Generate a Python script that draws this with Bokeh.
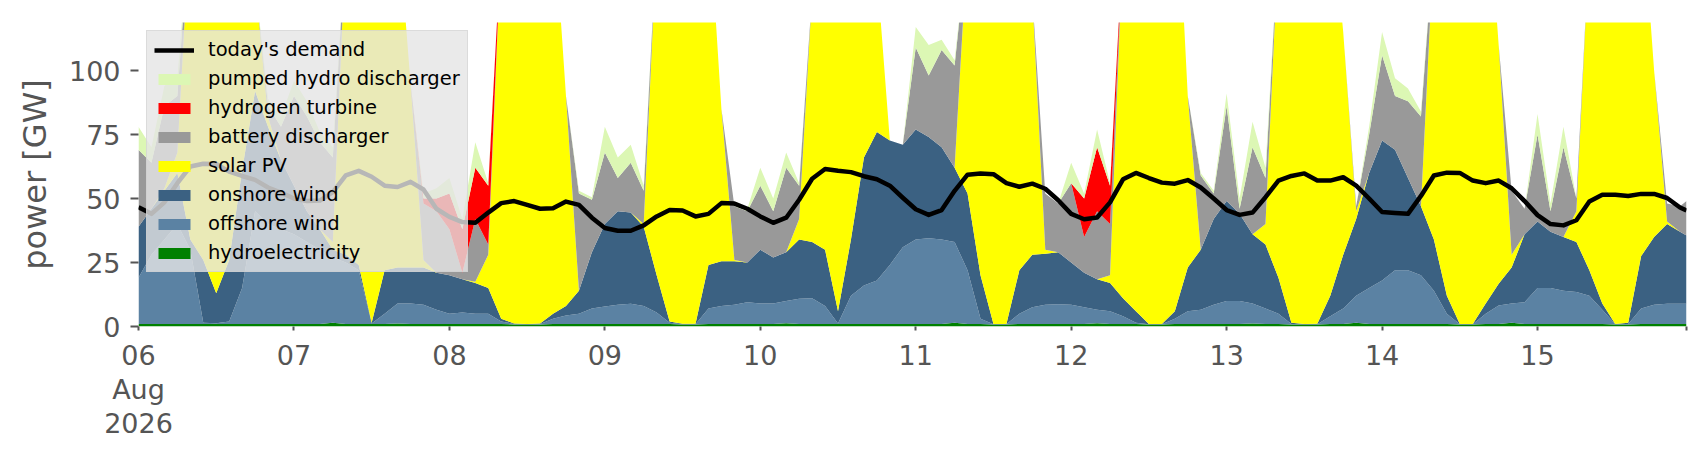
import pandas as pd
from bokeh.plotting import figure
from bokeh.models import ColumnDataSource, Range1d, FixedTicker, Legend, LegendItem
from bokeh.embed import file_html
from bokeh.resources import INLINE

# 2-hourly readings from 06 Aug 2026 00:00, plus the last hour (15 Aug 23:00)
times = pd.date_range("2026-08-06 00:00", periods=120, freq="2h").append(
    pd.DatetimeIndex([pd.Timestamp("2026-08-15 23:00")]))

hydroelectricity = [
    1.0, 1.0, 1.0, 1.0, 1.0, 1.0, 1.0, 1.0, 1.0, 1.0,
    1.0, 1.0, 1.0, 1.0, 1.0, 1.5, 1.0, 1.0, 1.0, 1.0,
    1.2, 1.0, 1.0, 1.0, 1.0, 1.0, 1.0, 1.0, 1.0, 0.8,
    0.8, 0.8, 1.0, 1.0, 1.0, 1.0, 1.0, 1.0, 1.0, 1.0,
    1.0, 1.0, 0.8, 0.8, 1.0, 1.0, 1.0, 1.0, 1.0, 1.0,
    1.3, 1.0, 1.0, 1.0, 1.0, 1.0, 1.0, 1.0, 1.0, 1.0,
    1.0, 1.0, 1.0, 1.5, 1.0, 1.0, 0.8, 0.8, 1.0, 1.0,
    1.0, 1.0, 1.0, 1.0, 1.3, 1.0, 1.0, 1.0, 0.8, 0.8,
    1.0, 1.0, 1.0, 1.0, 1.0, 1.0, 1.2, 1.0, 1.0, 0.8,
    0.8, 0.8, 1.0, 1.0, 1.5, 1.0, 1.0, 1.0, 1.0, 1.0,
    1.0, 1.0, 0.8, 0.8, 1.0, 1.0, 1.5, 1.0, 1.0, 1.0,
    1.0, 1.0, 1.0, 1.0, 0.8, 0.8, 1.0, 1.0, 1.0, 1.0,
    1.0]

offshore_wind = [
    18, 27, 33, 39, 29, 0.5, 0.3, 1, 14, 44,
    39, 37, 35, 32, 29, 25.5, 24, 21, 0.2, 4,
    7.8, 8, 7.5, 5.5, 4, 4.5, 4, 4, 1, 0.2,
    0.1, 0.2, 2, 3.3, 4, 6, 6.8, 7.5, 7.9, 7,
    4.5, 0.5, 0.1, 0.1, 6, 7, 7.5, 8.5, 8, 8,
    8.7, 9.8, 10, 7, 0.2, 11, 15, 17, 23, 30,
    33, 33.5, 33, 31.5, 21, 2, 0.1, 0.1, 4, 6.5,
    7.5, 7.7, 7.5, 6.5, 5.2, 5, 3, 0.5, 0.1, 0.1,
    2, 5, 5.5, 7.5, 9, 9, 7.8, 6, 4, 0.2,
    0.1, 0.1, 3, 6, 10.5, 14, 17, 21, 21, 19,
    13, 4, 0.1, 0.1, 4, 7.2, 7.5, 8.5, 14, 14,
    13, 12.5, 11, 5.5, 0.1, 0.2, 6, 7.5, 7.9, 7.9,
    7.9]

onshore_wind = [
    20, 18, 19, 20, 4, 24.5, 11.7, 24, 46, 47,
    38, 27, 19, 12, 8, 3, 3, 2, 0.3, 17,
    14, 14, 14.5, 14.5, 15, 13, 12, 10, 1, 0.2,
    0.1, 0.2, 2, 3.7, 9, 22, 32.2, 36.5, 35.6, 31,
    14.5, 0.5, 0.2, 0.2, 17, 17.5, 17, 15.5, 21, 18,
    19, 23.2, 22, 22, 4.8, 22, 50, 58, 48.7, 40,
    43, 39.5, 36, 29, 30, 17, 0.1, 0.1, 17, 20.5,
    19.9, 20.3, 16.5, 13.5, 12, 11, 7, 4.5, 0.1, 0.1,
    3, 17, 23.5, 33.5, 39, 34, 27, 25, 14, 0.5,
    0.1, 0.2, 8, 21, 30, 45, 54.7, 47, 36, 27,
    20, 7, 0.1, 0.1, 4, 8.5, 14, 26.5, 26, 22,
    21, 19.5, 10, 2.5, 0.1, 0.5, 20.5, 26.5, 31.1, 28.1,
    26.6]

solar_pv = [
    0, 0, 1, 8, 126, 164, 187, 164, 114, 43,
    4, 0, 0, 0, 0, 3, 122, 166, 198.5, 168,
    137, 72, 3, 0, 0, 0, 0.5, 13, 147, 188.8,
    199, 188.8, 160, 82, 0, 0, 0, 0, 0, 1,
    130, 188, 199, 194, 141, 59.5, 0.5, 0, 0, 0,
    0, 8, 97, 160, 194, 161, 114, 63, 0, 0,
    0, 0, 0, 0, 98, 170, 199, 194, 148, 101,
    1.6, 0, 0, 0, 0, 3, 139, 184, 199, 194,
    184, 67, 0, 0, 0, 0, 0, 8, 131, 188.5,
    199, 194, 158, 87, 3, 0, 0, 0, 0, 0,
    116, 173, 199, 194, 171, 93.3, 5, 0, 0, 0,
    0, 12, 128, 181, 199, 193.5, 142.5, 65, 1, 0,
    0]

battery_discharger = [
    30, 18, 32, 22, 0, 0, 0, 0, 0, 0,
    4, 13, 35, 37, 34, 33, 0, 0, 0, 0,
    0, 0, 22, 24, 18, 2.5, 24.5, 4, 0, 0,
    0, 0, 0, 0, 38, 20.5, 28, 13, 19.5, 13,
    0, 0, 0, 0, 0, 0, 21, 20, 25, 18,
    33, 13, 0, 0, 0, 0, 0, 0, 0, 0,
    32, 24, 38, 40, 0, 0, 0, 0, 0, 0,
    22, 19, 31, 14, 26.5, 20, 0, 0, 0, 0,
    0, 0, 29, 10, 37, 2, 34, 18, 0, 0,
    0, 0, 0, 0, 2, 15, 33.3, 21, 30, 35,
    0, 0, 0, 0, 0, 0, 25, 10, 34, 8,
    35, 5, 0, 0, 0, 0, 0, 0, 7, 10,
    13.5]

hydrogen_turbine = [
    0, 0, 0, 0, 0, 0, 0, 0, 0, 0,
    0, 0, 0, 0, 0, 0, 0, 0, 0, 0,
    0, 0, 2, 5, 14, 17, 20, 23, 0, 0,
    0, 0, 0, 0, 0, 0, 0, 0, 0, 0,
    0, 0, 0, 0, 0, 0, 0, 0, 0, 0,
    0, 0, 0, 0, 0, 0, 0, 0, 0, 0,
    0, 0, 0, 0, 0, 0, 0, 0, 0, 0,
    0, 0, 0, 15, 25, 15, 0, 0, 0, 0,
    0, 0, 0, 0, 0, 0, 0, 0, 0, 0,
    0, 0, 0, 0, 0, 0, 0, 0, 0, 0,
    0, 0, 0, 0, 0, 0, 0, 0, 0, 0,
    0, 0, 0, 0, 0, 0, 0, 0, 0, 0,
    0]

pumped_hydro_discharger = [
    9, 6, 8, 7, 0, 0, 0, 0, 0, 0,
    3, 4, 6, 6, 4, 4, 0, 0, 0, 0,
    0, 0, 2, 4, 6, 4, 10, 1, 0, 0,
    0, 0, 0, 0, 1, 1, 10, 8, 7, 2,
    0, 0, 0, 0, 0, 0, 0, 1, 7, 5,
    6, 1, 0, 0, 0, 0, 0, 0, 0, 0,
    8, 12, 4, 2, 0, 0, 0, 0, 0, 0,
    0, 0, 8, 2, 7, 1, 0, 0, 0, 0,
    0, 0, 1, 1, 5, 4, 10, 4, 0, 0,
    0, 0, 0, 0, 0, 3, 9, 7, 5, 2,
    0, 0, 0, 0, 0, 0, 0, 0, 8, 3,
    8, 0, 0, 0, 0, 0, 0, 0, 0, 0,
    0]

todays_demand = [
    46.6, 44.0, 48.5, 56, 62.5, 63.6, 63.5, 60.5, 58.8, 57.3,
    54.3, 52.3, 50, 49, 49.2, 52.5, 59, 60.8, 58.5, 55,
    54.5, 56.5, 53.5, 46, 42.8, 40.8, 40.5, 44.5, 48.2, 49,
    47.5, 46, 46.2, 48.8, 47.5, 42.5, 38.5, 37.4, 37.4, 39.5,
    43, 45.5, 45.3, 43, 44, 48.2, 48, 46, 43, 40.5,
    42.5, 49.5, 57.7, 61.5, 60.8, 60.3, 58.7, 57.5, 55, 50.3,
    45.8, 43.6, 45.5, 53, 59.3, 59.8, 59.5, 56, 54.6, 55.8,
    53.8, 49.3, 44, 41.9, 42.6, 48.5, 57.5, 60, 58, 56.2,
    55.8, 57.2, 54.3, 50, 45.5, 43.6, 44.5, 50.5, 57, 58.8,
    59.8, 57, 57, 58.3, 55, 50, 44.7, 44.3, 44, 51,
    59, 60.1, 60, 57, 56, 57, 54, 49, 43.5, 40,
    39.5, 41.5, 48.8, 51.5, 51.5, 51, 51.8, 51.8, 50.2, 46.5,
    45.3]

series_names = ["hydroelectricity", "offshore wind", "onshore wind", "solar PV",
                "battery discharger", "hydrogen turbine", "pumped hydro discharger"]
series_colors = ["#008000", "#5b82a3", "#3b6182", "#ffff00",
                 "#999999", "#ff0000", "#dcf7b4"]
day_labels = ["06\nAug\n2026", "07", "08", "09", "10", "11", "12", "13", "14", "15"]

src = ColumnDataSource(dict(
    time=times,
    hydro=hydroelectricity, offshore=offshore_wind, onshore=onshore_wind,
    solar=solar_pv, battery=battery_discharger, hydrogen=hydrogen_turbine,
    pumped=pumped_hydro_discharger, demand=todays_demand))
stackers = ["hydro", "offshore", "onshore", "solar", "battery", "hydrogen", "pumped"]

FONT = "DejaVu Sans"
p = figure(width=1690, height=444, x_axis_type="datetime", output_backend="svg",
           toolbar_location=None,
           x_range=Range1d(times[0], times[-1]), y_range=Range1d(0, 118.75),
           min_border_left=138, min_border_right=4, min_border_top=22,
           min_border_bottom=118, background_fill_color="white",
           border_fill_color="white", outline_line_color=None)

areas = p.varea_stack(stackers=stackers, x="time", fill_color=series_colors, source=src)
demand_line = p.line("time", "demand", source=src, line_color="black", line_width=4.5,
                     line_join="round")

p.xgrid.visible = False
p.ygrid.visible = False

# y axis
ya = p.yaxis[0]
ya.ticker = FixedTicker(ticks=[0, 25, 50, 75, 100], minor_ticks=[])
ya.axis_line_color = None
ya.major_tick_out = 8
ya.major_tick_in = 0
ya.major_tick_line_color = "#555555"
ya.major_tick_line_width = 2
ya.major_label_text_font = FONT
ya.major_label_text_font_size = "27px"
ya.major_label_text_color = "#555555"
ya.major_label_standoff = 10
ya.axis_label = "power [GW]"
ya.axis_label_text_font = FONT
ya.axis_label_text_font_size = "32px"
ya.axis_label_text_font_style = "normal"
ya.axis_label_text_color = "#555555"
ya.axis_label_standoff = 12

# x axis: one tick per day, plus the end of the range
day_ticks = pd.date_range("2026-08-06", periods=10, freq="D")
tick_ms = [float(t.value // 10**6) for t in day_ticks]
end_ms = float(times[-1].value // 10**6)
xa = p.xaxis[0]
xa.ticker = FixedTicker(ticks=tick_ms + [end_ms], minor_ticks=[])
overrides = {ms: lab for ms, lab in zip(tick_ms, day_labels)}
overrides[end_ms] = ""
xa.major_label_overrides = overrides
xa.axis_line_color = None
xa.major_tick_out = 4
xa.major_tick_in = 0
xa.major_tick_line_color = "#555555"
xa.major_tick_line_width = 2
xa.major_label_text_font = FONT
xa.major_label_text_font_size = "27px"
xa.major_label_text_color = "#555555"
xa.major_label_text_line_height = 1.1
xa.major_label_standoff = 9

items = [LegendItem(label="today's demand", renderers=[demand_line])]
for idx in range(len(series_names) - 1, -1, -1):
    items.append(LegendItem(label=series_names[idx], renderers=[areas[idx]]))

legend = Legend(items=items, location="top_left", margin=8, padding=7, spacing=6,
                glyph_width=40, glyph_height=14, label_height=20, label_standoff=14,
                label_text_font=FONT, label_text_font_size="19.5px",
                label_text_color="black",
                background_fill_color="#e5e5e5", background_fill_alpha=0.8,
                border_line_color="#cccccc", border_line_width=1.5)
p.add_layout(legend)

open("out.html", "w").write(file_html(p, INLINE))
